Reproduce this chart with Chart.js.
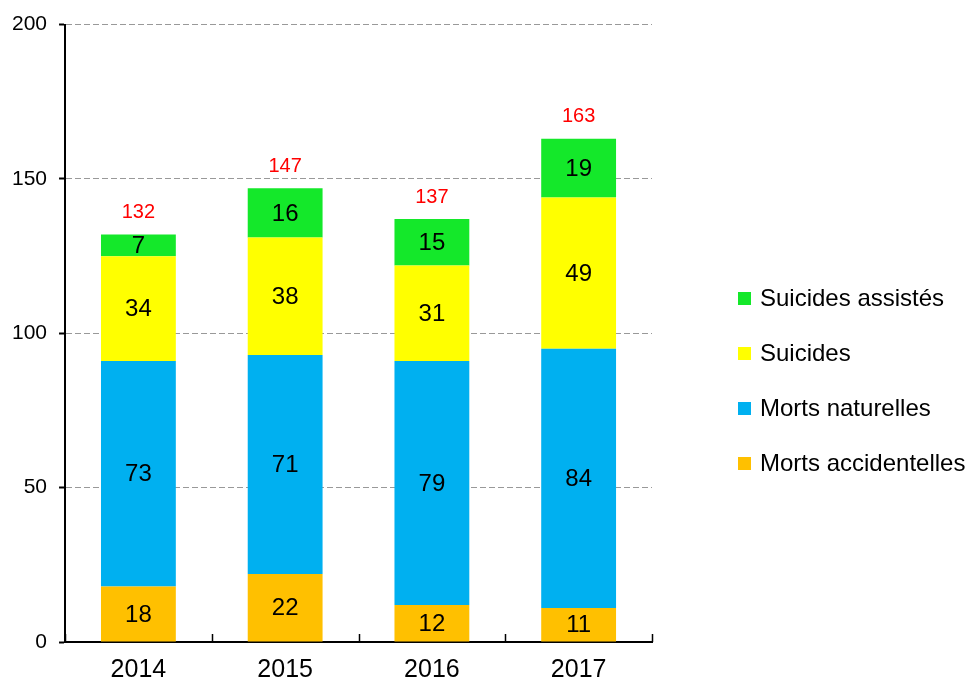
<!DOCTYPE html>
<html>
<head>
<meta charset="utf-8">
<script src="https://cdn.jsdelivr.net/npm/chart.js@4.4.0/dist/chart.umd.min.js"></script>
<style>
html, body { margin: 0; padding: 0; background: #fff; }
</style>
</head>
<body>
<canvas id="deaths" width="966" height="689"></canvas>
<script>
const years = ['2014', '2015', '2016', '2017'];
const accidentelles = [18, 22, 12, 11];
const naturelles = [73, 71, 79, 84];
const suicides = [34, 38, 31, 49];
const assistes = [7, 16, 15, 19];
const totals = [132, 147, 137, 163];
const yTicks = [0, 50, 100, 150, 200];

const FONT = '"Liberation Sans", Arial, sans-serif';

// values inside the bars, red totals above, small inward ticks on the x axis
const barLabels = {
    id: 'barLabels',
    afterDraw(chart) {
        const ctx = chart.ctx;
        ctx.save();
        ctx.textAlign = 'center';
        ctx.textBaseline = 'middle';
        ctx.font = '24px ' + FONT;
        ctx.fillStyle = '#000';
        chart.data.datasets.forEach((ds, i) => {
            chart.getDatasetMeta(i).data.forEach((bar, j) => {
                ctx.fillText(ds.data[j], bar.x, (bar.y + bar.base) / 2 + 1);
            });
        });
        const last = chart.getDatasetMeta(chart.data.datasets.length - 1).data;
        ctx.font = '20px ' + FONT;
        ctx.fillStyle = '#FF0000';
        last.forEach((bar, j) => ctx.fillText(totals[j], bar.x, bar.y - 22));

        const xs = chart.scales.x;
        const bottom = chart.chartArea.bottom;
        ctx.strokeStyle = '#000';
        ctx.lineWidth = 1.5;
        ctx.beginPath();
        for (let i = 0; i <= years.length; i++) {
            const px = Math.round(xs.getPixelForValue(i - 0.5)) + 0.5;
            ctx.moveTo(px, bottom);
            ctx.lineTo(px, bottom - 8);
        }
        ctx.stroke();
        ctx.restore();
    }
};

// legend on the right, top item = last dataset (like the stack order)
const sideLegend = {
    id: 'sideLegend',
    afterDraw(chart) {
        const ctx = chart.ctx;
        const ds = chart.data.datasets.slice().reverse();
        ctx.save();
        ctx.font = '24px ' + FONT;
        ctx.textAlign = 'left';
        ctx.textBaseline = 'middle';
        ds.forEach((d, i) => {
            const y = 298 + i * 55;
            ctx.fillStyle = d.backgroundColor;
            ctx.fillRect(738, y - 6, 13, 13);
            ctx.fillStyle = '#000';
            ctx.fillText(d.label, 760, y + 1);
        });
        ctx.restore();
    }
};

const ctx = document.getElementById('deaths').getContext('2d');
const deathsChart = new Chart(ctx, {
    type: 'bar',
    data: {
        labels: years,
        datasets: [
            { label: 'Morts accidentelles', data: accidentelles, backgroundColor: '#FFC000' },
            { label: 'Morts naturelles', data: naturelles, backgroundColor: '#00B0F0' },
            { label: 'Suicides', data: suicides, backgroundColor: '#FFFF00' },
            { label: 'Suicides assistés', data: assistes, backgroundColor: '#14E82A' },
        ],
    },
    options: {
        responsive: false,
        animation: false,
        datasets: {
            bar: { barPercentage: 0.51, categoryPercentage: 1, borderWidth: 0 }
        },
        layout: { padding: { left: 0, top: 8, right: 314, bottom: 0 } },
        scales: {
            x: {
                stacked: true,
                grid: { display: false, drawTicks: false },
                border: { display: true, color: '#000', width: 2 },
                ticks: { color: '#000', font: { family: FONT, size: 25 }, padding: 13 },
                afterFit: s => { s.height = 47; },
            },
            y: {
                stacked: true,
                min: 0,
                max: 200,
                afterBuildTicks: s => { s.ticks = yTicks.map(v => ({ value: v })); },
                grid: { color: '#999999', lineWidth: 1, tickColor: '#000', tickLength: 6, tickWidth: 2 },
                border: { display: true, color: '#000', width: 2, dash: [6, 3] },
                ticks: { color: '#000', font: { family: FONT, size: 21 }, padding: 12 },
            },
        },
        plugins: {
            legend: { display: false },
            tooltip: { enabled: false },
        },
    },
    plugins: [barLabels, sideLegend],
});
</script>
</body>
</html>
